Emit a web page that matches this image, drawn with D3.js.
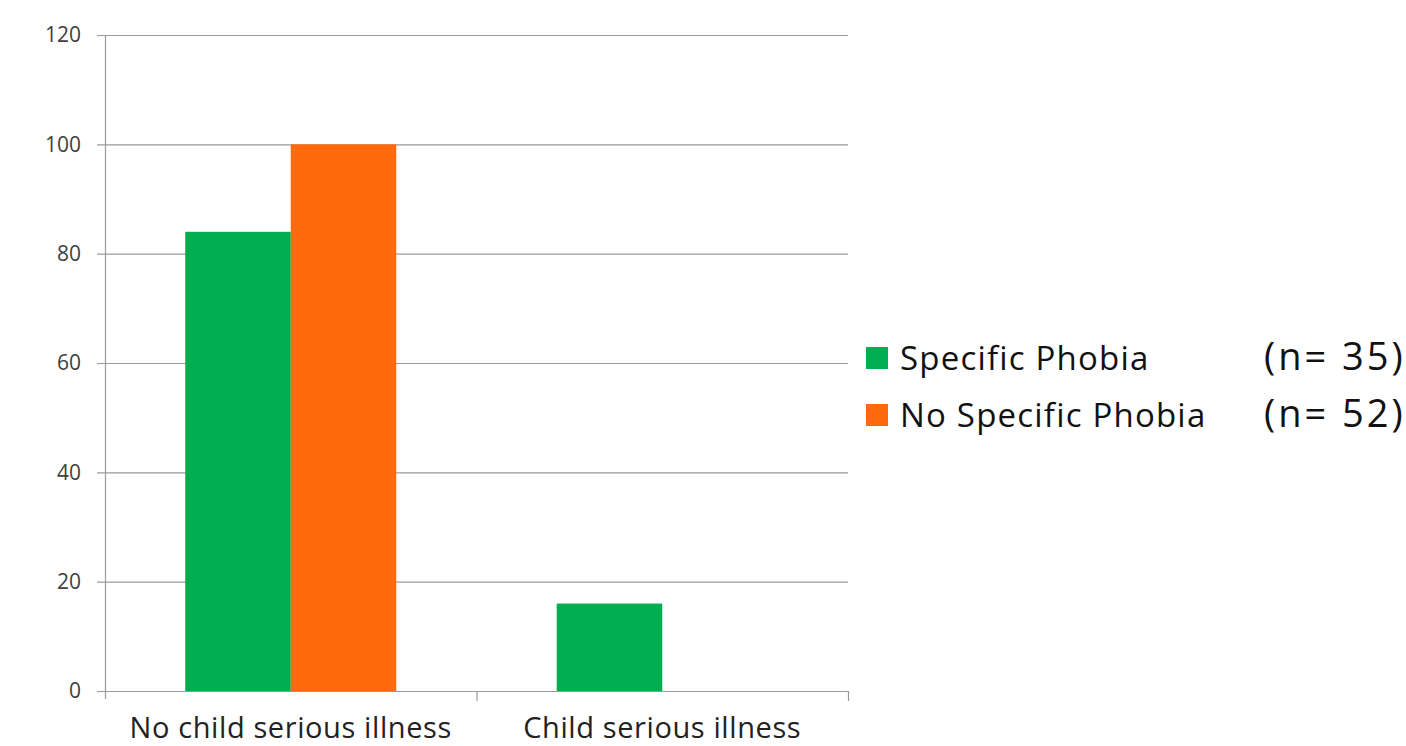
<!DOCTYPE html>
<html>
<head>
<meta charset="utf-8">
<script src="https://cdn.jsdelivr.net/npm/d3@7"></script>
<style>
  body { margin: 0; background: #fff; }
  svg { display: block; font-family: "Open Sans", "Noto Sans", sans-serif; }
</style>
</head>
<body>
<svg id="chart" width="1406" height="746"></svg>
<script>
// Chart data
const categories = ["No child serious illness", "Child serious illness"];
const seriesNames = ["Specific Phobia", "No Specific Phobia"];
const seriesCounts = ["(n= 35)", "(n= 52)"];
const specificPhobia = [84, 16];
const noSpecificPhobia = [100, 0];
const yTicks = [0, 20, 40, 60, 80, 100, 120];

const colors = ["#00ad4f", "#ff6a0c"];
const seriesValues = [specificPhobia, noSpecificPhobia];

const svg = d3.select("#chart");

// Plot area
const plotLeft = 105, plotRight = 848, plotTop = 35, plotBottom = 691;

const x = d3.scaleBand().domain(categories).range([plotLeft, plotRight]).paddingInner(0).paddingOuter(0);
const xInner = d3.scaleBand().domain(seriesNames).range([0, x.bandwidth()]).paddingInner(0).paddingOuter(0.76);
const y = d3.scaleLinear().domain([0, 120]).range([plotBottom, plotTop]);

// Gridlines
svg.append("g")
    .selectAll("line")
    .data(yTicks)
    .join("line")
    .attr("x1", plotLeft - 8)
    .attr("x2", plotRight)
    .attr("y1", d => y(d) + 0.5)
    .attr("y2", d => y(d) + 0.5)
    .attr("stroke", "#9a9a9a")
    .attr("stroke-width", 1.2);

// Bars
const groups = svg.append("g")
    .selectAll("g")
    .data(categories)
    .join("g")
    .attr("transform", d => `translate(${x(d)},0)`);

groups.selectAll("rect")
    .data((c, i) => seriesNames.map((s, j) => ({ s, v: seriesValues[j][i], c: colors[j] })))
    .join("rect")
    .attr("x", d => xInner(d.s))
    .attr("width", xInner.bandwidth())
    .attr("y", d => y(d.v))
    .attr("height", d => y(0) - y(d.v))
    .attr("fill", d => d.c);

// Y axis line
svg.append("line")
    .attr("x1", plotLeft + 0.5).attr("x2", plotLeft + 0.5)
    .attr("y1", plotTop).attr("y2", plotBottom + 8)
    .attr("stroke", "#9a9a9a").attr("stroke-width", 1.2);

// X axis baseline + category ticks
svg.append("line")
    .attr("x1", plotLeft).attr("x2", plotRight)
    .attr("y1", plotBottom + 0.5).attr("y2", plotBottom + 0.5)
    .attr("stroke", "#9a9a9a").attr("stroke-width", 1.2);

svg.append("g")
    .selectAll("line")
    .data(categories.slice(1).map(c => x(c)).concat([plotRight]))
    .join("line")
    .attr("x1", d => d + 0.5).attr("x2", d => d + 0.5)
    .attr("y1", plotBottom).attr("y2", plotBottom + 10)
    .attr("stroke", "#9a9a9a").attr("stroke-width", 1.2);

// Y tick labels
svg.append("g")
    .selectAll("text")
    .data(yTicks)
    .join("text")
    .attr("x", plotLeft - 24)
    .attr("y", d => y(d))
    .attr("dy", "0.35em")
    .attr("text-anchor", "end")
    .attr("font-size", 21)
    .attr("fill", "#404040")
    .text(d => d);

// Category labels
svg.append("g")
    .selectAll("text")
    .data(categories)
    .join("text")
    .attr("x", d => x(d) + x.bandwidth() / 2)
    .attr("y", 738)
    .attr("text-anchor", "middle")
    .attr("font-size", 29)
    .attr("letter-spacing", 0.6)
    .attr("fill", "#222")
    .text(d => d);

// Legend
const legend = svg.append("g")
    .selectAll("g")
    .data(seriesNames)
    .join("g")
    .attr("transform", (d, i) => `translate(866,${358 + i * 57})`);

legend.append("rect")
    .attr("x", 0).attr("y", -11)
    .attr("width", 22).attr("height", 22)
    .attr("fill", (d, i) => colors[i]);

legend.append("text")
    .attr("x", 34)
    .attr("y", 0)
    .attr("dy", "0.36em")
    .attr("font-size", 33)
    .attr("letter-spacing", 1.2)
    .attr("fill", "#111")
    .text(d => d);

legend.append("text")
    .attr("x", 1264 - 866)
    .attr("y", -2)
    .attr("dy", "0.36em")
    .attr("font-size", 38)
    .attr("letter-spacing", 3)
    .attr("fill", "#111")
    .text((d, i) => seriesCounts[i]);
</script>
</body>
</html>
